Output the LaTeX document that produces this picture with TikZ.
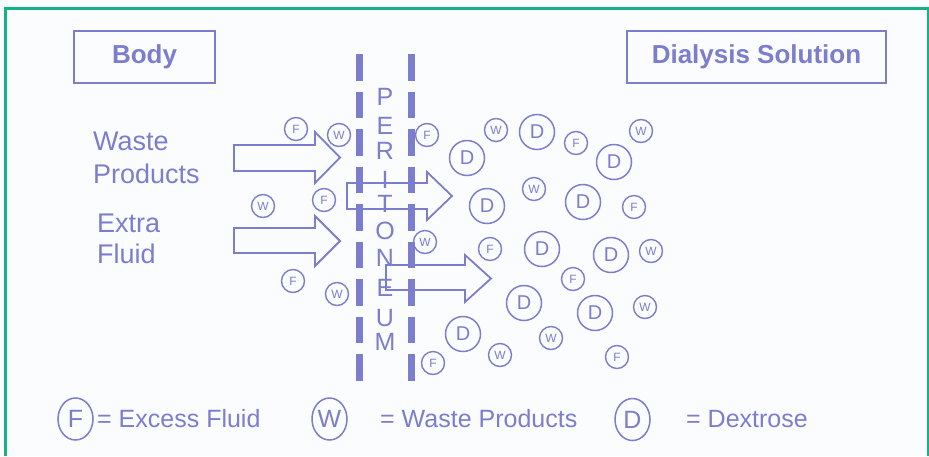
\documentclass[tikz,border=0pt]{standalone}
\usepackage{fontspec}
\setmainfont{Liberation Sans}
\usetikzlibrary{shapes.geometric}
\definecolor{ink}{RGB}{125,125,205}
\definecolor{framegreen}{RGB}{20,178,135}
\definecolor{paper}{RGB}{251,252,254}
\begin{document}
\begin{tikzpicture}[x=1pt,y=-1pt,
  titlebox/.style={draw=ink,line width=2pt,inner sep=0pt,text=ink,font=\fontsize{26}{30}\selectfont\bfseries},
  lbl/.style={text=ink,inner sep=0pt,anchor=base west,font=\fontsize{27}{32}\selectfont},
  legtext/.style={text=ink,inner sep=0pt,anchor=base west,font=\fontsize{25}{30}\selectfont},
  perletter/.style={text=ink,inner sep=0pt,font=\fontsize{25}{30}\selectfont},
  membrane/.style={draw=ink,line width=7pt,dash pattern=on 26.5pt off 11pt},
  flow/.style={draw=ink,line width=1.8pt,line join=miter},
  sm/.style={circle,draw=ink,line width=1.4pt,text=ink,inner sep=0pt,minimum size=23pt,font=\fontsize{12}{12}\selectfont},
  dx/.style={circle,draw=ink,line width=1.5pt,text=ink,inner sep=0pt,minimum size=35pt,font=\fontsize{20}{20}\selectfont},
  leg/.style={ellipse,draw=ink,line width=1.5pt,text=ink,inner sep=0pt,minimum width=35pt,minimum height=42pt,font=\fontsize{25}{25}\selectfont}]
\useasboundingbox (0,0) rectangle (929,456);
\fill[paper] (0,0) rectangle (929,456);
\draw[framegreen,line width=3pt] (5,456) -- (5,8) -- (928,8) -- (928,456);

% title boxes
\node[titlebox,minimum width=141pt,minimum height=52pt] (body) at (144.5,57) {Body};
\node[titlebox,minimum width=259pt,minimum height=52pt] (dial) at (756.5,57) {Dialysis Solution};

% left labels
\node[lbl] (waste1) at (93,150) {Waste};
\node[lbl] (waste2) at (93,183) {Products};
\node[lbl] (extra1) at (97,232) {Extra};
\node[lbl] (extra2) at (97,263) {Fluid};

% peritoneum membrane
\coordinate (mlt) at (359.5,54); \coordinate (mlb) at (359.5,381);
\coordinate (mrt) at (411,54);   \coordinate (mrb) at (411,381);
\draw[membrane] (mlt) -- (mlb);
\draw[membrane] (mrt) -- (mrb);
\foreach \ch/\yy [count=\i] in {P/96.5,E/125.5,R/150.5,I/180,T/204,O/231,N/258,E/287.5,U/318,M/341.5}
  \node[perletter] (per\i) at (385,\yy) {\ch};

% block arrows
\draw[flow] (234,145) -- (315,145) -- (315,132) -- (340,157.5) -- (315,183) -- (315,171) -- (234,171) -- cycle;
\draw[flow] (234,228) -- (315,228) -- (315,216) -- (340,241) -- (315,266) -- (315,253) -- (234,253) -- cycle;
\draw[flow] (347,183) -- (427,183) -- (427,172) -- (452,196) -- (427,220) -- (427,209) -- (347,209) -- cycle;
\draw[flow] (386,265) -- (465,265) -- (465,255) -- (491,278.5) -- (465,302) -- (465,290) -- (386,290) -- cycle;

% particles
\node[sm] (f1) at (296,129) {F};
\node[sm] (w1) at (339,135) {W};
\node[sm] (f2) at (427,135) {F};
\node[sm] (w2) at (496,130) {W};
\node[dx] (d1) at (537,132) {D};
\node[sm] (f3) at (576,143) {F};
\node[dx] (d2) at (614,162) {D};
\node[sm] (w3) at (641,131) {W};
\node[dx] (d3) at (467,158) {D};
\node[sm] (w4) at (263,206) {W};
\node[sm] (f4) at (324,200) {F};
\node[dx] (d4) at (487,206) {D};
\node[sm] (w5) at (534,189) {W};
\node[dx] (d5) at (583,202) {D};
\node[sm] (f5) at (634,207) {F};
\node[sm] (w6) at (425,242) {W};
\node[sm] (f6) at (490,249) {F};
\node[dx] (d6) at (542,249) {D};
\node[dx] (d7) at (611,255) {D};
\node[sm] (w7) at (651,251) {W};
\node[sm] (f7) at (573,279) {F};
\node[dx] (d8) at (524,303) {D};
\node[dx] (d9) at (595,313) {D};
\node[sm] (w8) at (645,307) {W};
\node[sm] (f8) at (293,281) {F};
\node[sm] (w9) at (337,294) {W};
\node[dx] (d10) at (463,334) {D};
\node[sm] (w10) at (551,338) {W};
\node[sm] (w11) at (500,355) {W};
\node[sm] (f9) at (433,363) {F};
\node[sm] (f10) at (617,357) {F};

% legend
\node[leg] (legF) at (75.5,419) {F};
\node[legtext] (legFt) at (97,427) {= Excess Fluid};
\node[leg] (legW) at (329.5,419) {W};
\node[legtext] (legWt) at (380,427) {= Waste Products};
\node[leg] (legD) at (632.5,419.5) {D};
\node[legtext] (legDt) at (686,427) {= Dextrose};
\end{tikzpicture}
\end{document}
